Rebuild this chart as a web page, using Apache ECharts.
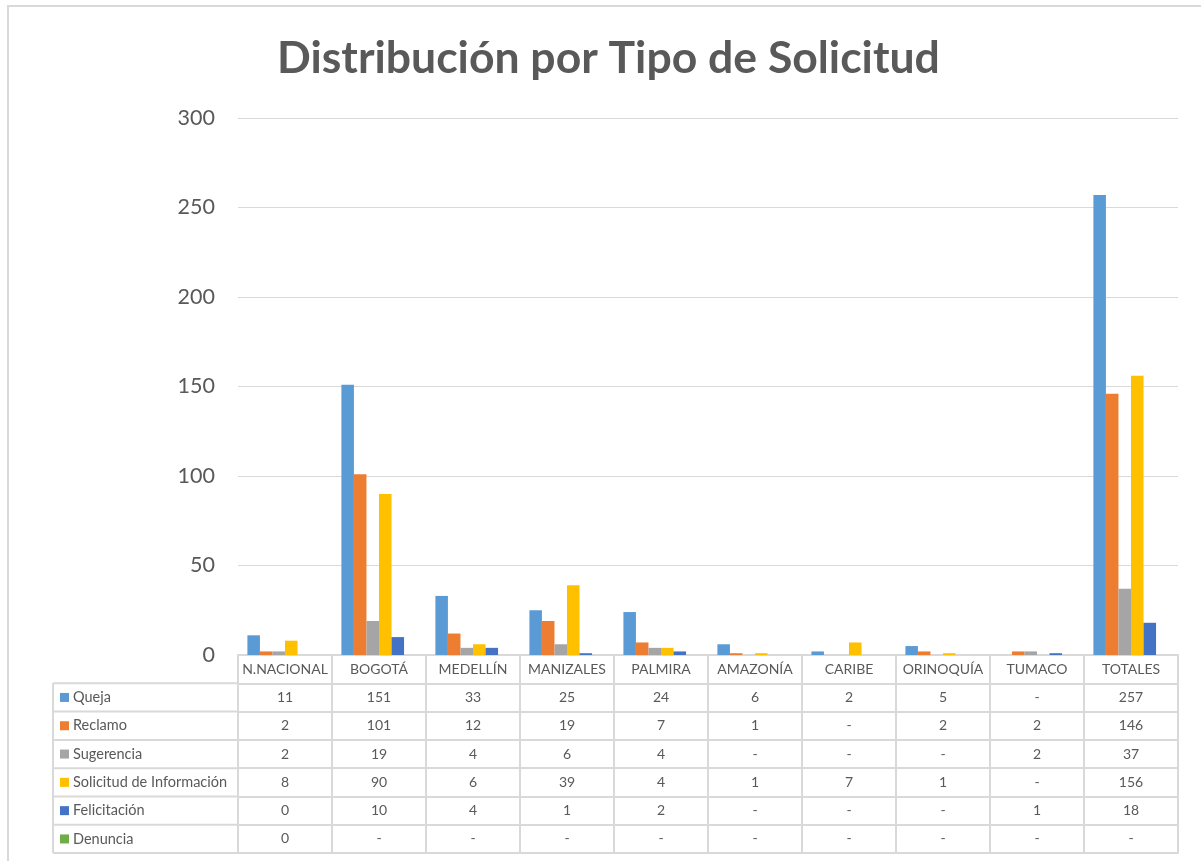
<!DOCTYPE html>
<html>
<head>
<meta charset="utf-8">
<script src="https://cdn.jsdelivr.net/npm/echarts@6/dist/echarts.min.js"></script>
<style>
  html, body { margin: 0; padding: 0; background: #fff; }
  #main { width: 1201px; height: 861px; }
</style>
</head>
<body>
<div id="main"></div>
<script>
// datos
var categorias = ['N.NACIONAL', 'BOGOTÁ', 'MEDELLÍN', 'MANIZALES', 'PALMIRA', 'AMAZONÍA', 'CARIBE', 'ORINOQUÍA', 'TUMACO', 'TOTALES'];
var queja = [11, 151, 33, 25, 24, 6, 2, 5, null, 257];
var reclamo = [2, 101, 12, 19, 7, 1, null, 2, 2, 146];
var sugerencia = [2, 19, 4, 6, 4, null, null, null, 2, 37];
var solicitud = [8, 90, 6, 39, 4, 1, 7, 1, null, 156];
var felicitacion = [0, 10, 4, 1, 2, null, null, null, 1, 18];
var denuncia = [0, null, null, null, null, null, null, null, null, null];
var ticksY = [0, 50, 100, 150, 200, 250, 300];

var nombres = ['Queja', 'Reclamo', 'Sugerencia', 'Solicitud de Información', 'Felicitación', 'Denuncia'];
var valores = [queja, reclamo, sugerencia, solicitud, felicitacion, denuncia];
var colores = ['#5B9BD5', '#ED7D31', '#A5A5A5', '#FFC000', '#4472C4', '#70AD47'];

var gris = '#D9D9D9';
var texto = '#595959';
var fuente = 'Lato, "Open Sans", sans-serif';

// geometria de la tabla
var gridLeft = 238, gridRight = 23, gridTop = 118, gridBottom = 206;
var tablaTop = 861 - gridBottom;
var filaH = 28.3;
var legLeft = 53;

var myChart = echarts.init(document.getElementById('main'));

// ejes x: uno para el encabezado y uno por fila de la tabla
var ejesX = [];
for (var k = 0; k <= nombres.length; k++) {
  (function (k) {
    ejesX.push({
      type: 'category',
      gridIndex: 0,
      position: 'bottom',
      offset: k * filaH,
      data: categorias,
      axisLine: { show: true, lineStyle: { color: gris, width: 2 } },
      axisTick: { show: true, interval: 0, length: filaH, lineStyle: { color: gris, width: 2 } },
      axisLabel: {
        interval: 0,
        margin: filaH / 2,
        verticalAlign: 'middle',
        color: texto,
        fontSize: 14,
        fontFamily: fuente,
        formatter: function (v, i) {
          if (k === 0) return v;
          var d = valores[k - 1][i];
          return d === null ? '-' : String(d);
        }
      }
    });
  })(k);
}
// linea inferior de la tabla
ejesX.push({
  type: 'category',
  gridIndex: 0,
  position: 'bottom',
  offset: (nombres.length + 1) * filaH,
  data: categorias,
  axisLine: { show: true, lineStyle: { color: gris, width: 2 } },
  axisTick: { show: false },
  axisLabel: { show: false }
});

// columna de leyenda
var graficos = [{
  type: 'rect',
  shape: { x: 8, y: 6, width: 1400, height: 1000 },
  style: { fill: 'none', stroke: gris, lineWidth: 2 },
  silent: true
}, {
  type: 'line',
  shape: { x1: legLeft, y1: tablaTop + filaH, x2: legLeft, y2: tablaTop + 7 * filaH },
  style: { stroke: gris, lineWidth: 2 }
}];
for (var r = 0; r <= nombres.length; r++) {
  graficos.push({
    type: 'line',
    shape: { x1: legLeft, y1: tablaTop + (r + 1) * filaH, x2: gridLeft, y2: tablaTop + (r + 1) * filaH },
    style: { stroke: gris, lineWidth: 2 }
  });
}
nombres.forEach(function (n, i) {
  var yc = tablaTop + (i + 1.5) * filaH;
  graficos.push({
    type: 'rect',
    shape: { x: legLeft + 7, y: yc - 4.5, width: 9, height: 9 },
    style: { fill: colores[i] }
  });
  graficos.push({
    type: 'text',
    x: legLeft + 20,
    y: yc,
    style: { text: n, fill: texto, fontSize: 14.5, fontFamily: fuente, verticalAlign: 'middle' }
  });
});

var series = nombres.map(function (n, i) {
  return {
    name: n,
    type: 'bar',
    xAxisIndex: 0,
    data: valores[i],
    barGap: '0%',
    barCategoryGap: '20%',
    itemStyle: { color: colores[i] }
  };
});

var option = {
  backgroundColor: '#fff',
  animation: false,
  title: {
    text: 'Distribución por Tipo de Solicitud',
    left: 277,
    top: 36,
    padding: 0,
    textStyle: { color: texto, fontSize: 44.5, fontWeight: 'bold', fontFamily: fuente }
  },
  grid: { left: gridLeft, right: gridRight, top: gridTop, bottom: gridBottom, containLabel: false },
  xAxis: ejesX,
  yAxis: {
    type: 'value',
    min: 0,
    max: ticksY[ticksY.length - 1],
    interval: 50,
    axisLine: { show: false },
    axisTick: { show: false },
    splitLine: { lineStyle: { color: gris, width: 1 } },
    axisLabel: { color: texto, fontSize: 21.5, fontFamily: fuente, margin: 23 }
  },
  graphic: graficos,
  series: series
};

myChart.setOption(option);
window.addEventListener('resize', function () {
  myChart.resize();
});
</script>
</body>
</html>
